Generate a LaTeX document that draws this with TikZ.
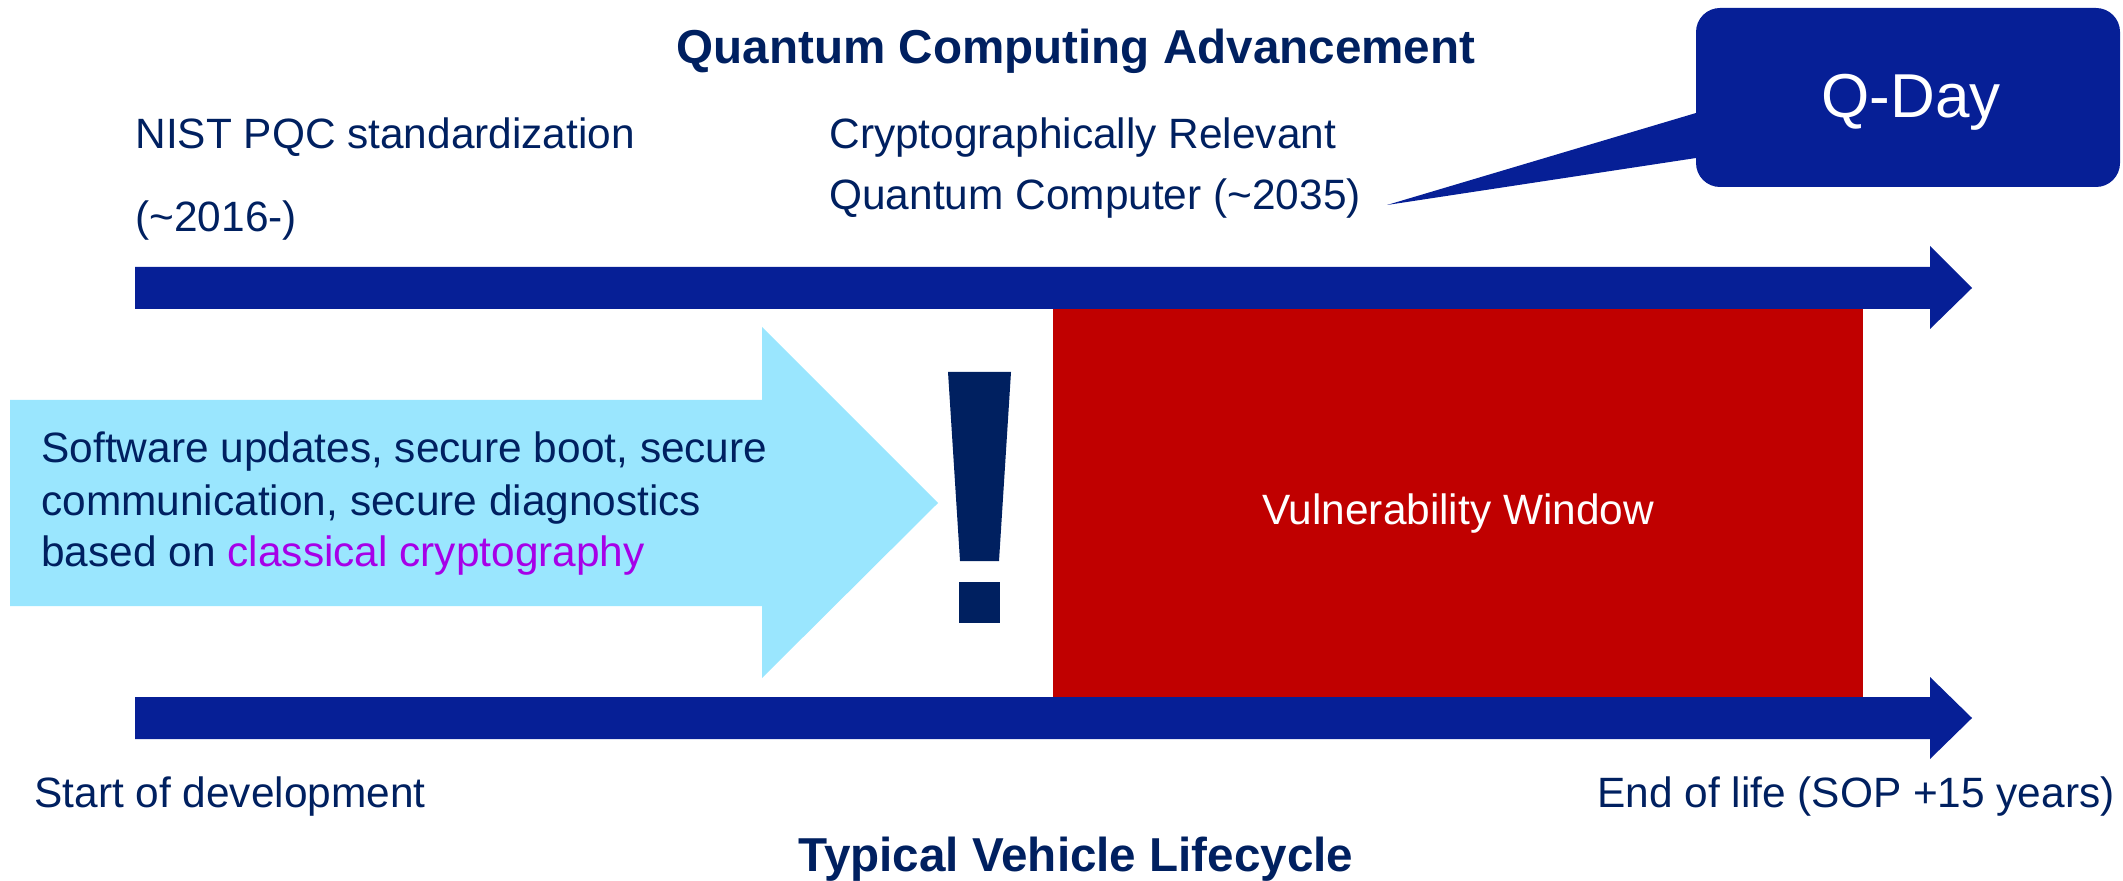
\documentclass[tikz,border=0pt]{standalone}
\usepackage{fontspec}
\setmainfont{Liberation Sans}
\definecolor{qnavy}{HTML}{002060}
\definecolor{qblue}{HTML}{061F96}
\definecolor{qred}{HTML}{C00000}
\definecolor{qsky}{HTML}{9AE6FE}
\definecolor{qviolet}{HTML}{A600E8}
\begin{document}
\begin{tikzpicture}[x=0.5pt,y=-0.5pt,
    lbl/.style={text=qnavy,inner sep=0pt,font=\fontsize{21.2}{25.8}\selectfont},
    ttl/.style={text=qnavy,inner sep=0pt,font=\fontsize{23.8}{28}\selectfont\bfseries}]
    \useasboundingbox (0,0) rectangle (2123,881);
    % timelines
    \fill[qblue] (135,267) -- (1930,267) -- (1930,246) -- (1972,288) -- (1930,329) -- (1930,309) -- (135,309) -- cycle;
    \fill[qblue] (135,697) -- (1930,697) -- (1930,677) -- (1972,718) -- (1930,759) -- (1930,739) -- (135,739) -- cycle;
    \fill[qred] (1053,309) rectangle (1863,697);
    \fill[qsky] (10,400) -- (762,400) -- (762,327) -- (938,503) -- (762,678) -- (762,606) -- (10,606) -- cycle;
    % exclamation mark
    \fill[qnavy] (948,372) -- (1011,372) -- (999,561) -- (960,561) -- cycle;
    \fill[qnavy] (959,582) rectangle (1000,623);
    % Q-Day callout
    \fill[qblue] (1696,113) -- (1387,205) -- (1696,158) -- cycle;
    \fill[qblue,rounded corners=12pt] (1696,8) rectangle (2120,187);
    \node[inner sep=0pt,text=white,font=\fontsize{31}{36}\selectfont,anchor=base] (qday) at (1911,118) {Q-Day};
    % texts
    \node[ttl,anchor=base] (qtitle) at (1076,64) {Quantum Computing Advancement};
    \node[ttl,anchor=base] (vtitle) at (1076,871) {Typical Vehicle Lifecycle};
    \node[lbl,anchor=base west] (nist) at (135,149) {NIST PQC standardization};
    \node[lbl,anchor=base west] (nistyr) at (135,232) {(\char"7E 2016-)};
    \node[lbl,anchor=base west] (crqc) at (829,149) {Cryptographically Relevant};
    \node[lbl,anchor=base west] (crqcyr) at (829,210) {Quantum Computer (\char"7E 2035)};
    \node[lbl,anchor=base west] (sw1) at (41,463) {Software updates, secure boot, secure};
    \node[lbl,anchor=base west] (sw2) at (41,515) {communication, secure diagnostics};
    \node[lbl,anchor=base west] (sw3) at (41,566) {based on \textcolor{qviolet}{classical cryptography}};
    \node[lbl,text=white,anchor=base] (vuln) at (1458,524) {Vulnerability Window};
    \node[lbl,anchor=base west] (sod) at (34,807) {Start of development};
    \node[lbl,anchor=base east] (eol) at (2115,807) {End of life (SOP +15 years)};
\end{tikzpicture}
\end{document}
